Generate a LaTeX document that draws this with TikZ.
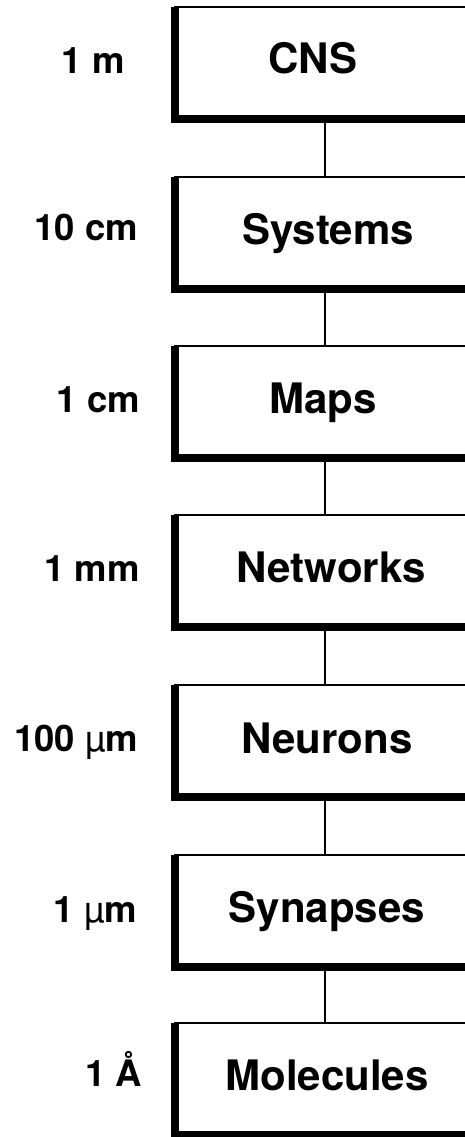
\documentclass[tikz,border=0pt]{standalone}
\usepackage{fontspec}
\setmainfont{TeX Gyre Heros}
\begin{document}
\begin{tikzpicture}[x=1pt,y=-1pt,
  levelbox/.style={draw, line width=1.8pt, minimum width=300pt, minimum height=112pt,
    anchor=north west, inner sep=0pt, outer sep=0pt},
  thickedge/.style={line width=8.5pt},
  boxtext/.style={font=\fontsize{42}{42}\selectfont\bfseries, anchor=base, inner sep=0pt},
  scaletext/.style={font=\fontsize{36.5}{36.5}\selectfont\bfseries, anchor=base east, inner sep=0pt},
  link/.style={line width=1.6pt}]
\useasboundingbox (0,0) rectangle (465,1137);
\clip (0,0) rectangle (465,1137);
% boxes
\node[levelbox] (cns) at (175,7) {};
\node[levelbox] (sys) at (175,177) {};
\node[levelbox] (map) at (175,346) {};
\node[levelbox] (net) at (175,515) {};
\node[levelbox] (neu) at (175,685) {};
\node[levelbox] (syn) at (175,855) {};
\node[levelbox] (mol) at (175,1023) {};
% thick left and bottom edges
\foreach \b in {cns,sys,map,net,neu,syn,mol}
  \draw[thickedge] (\b.north west) -- (\b.south west) -- (\b.south east);
% connectors
\draw[link] (cns.south) -- (sys.north);
\draw[link] (sys.south) -- (map.north);
\draw[link] (map.south) -- (net.north);
\draw[link] (net.south) -- (neu.north);
\draw[link] (neu.south) -- (syn.north);
\draw[link] (syn.south) -- (mol.north);
% box texts
\node[boxtext] (tcns) at (313,74) {CNS};
\node[boxtext] (tsys) at (328,244) {Systems};
\node[boxtext] (tmap) at (323,413) {Maps};
\node[boxtext] (tnet) at (331,582) {Networks};
\node[boxtext] (tneu) at (327,753) {Neurons};
\node[boxtext] (tsyn) at (327,922) {Synapses};
\node[boxtext] (tmol) at (327,1090) {Molecules};
% scale labels
\node[scaletext] (lcns) at (125,74) {1 m};
\node[scaletext] (lsys) at (138,240) {10 cm};
\node[scaletext] (lmap) at (140,412) {1 cm};
\node[scaletext] (lnet) at (140,581) {1 mm};
\node[scaletext] (lneu) at (138,751) {100 {\mdseries µ}m};
\node[scaletext] (lsyn) at (137,922) {1 {\mdseries µ}m};
\node[scaletext] (lmol) at (142,1086) {1 Å};
\end{tikzpicture}
\end{document}
